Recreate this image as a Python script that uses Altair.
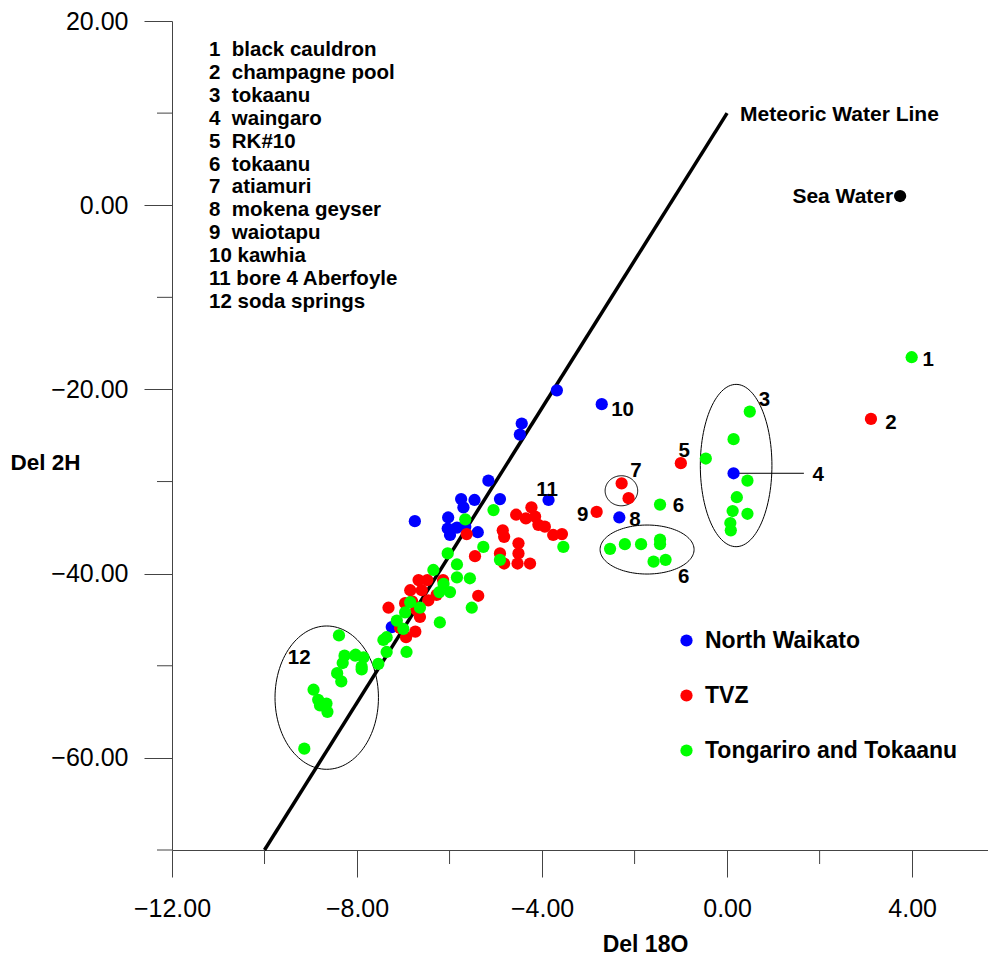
import altair as alt
import pandas as pd
import numpy as np

FONT = "Liberation Sans"

# ---------------- data ----------------
nw_x = [-3.68, -2.71, -4.44, -4.48, -5.16, -4.91, -3.86, -5.75, -5.46, -5.70,
        -6.03, -6.75, -6.04, -5.84, -5.99, -5.66, -5.39, -2.33, 0.14, -7.25]
nw_y = [-20.1, -21.6, -23.7, -24.9, -29.9, -31.9, -32.0, -31.9, -32.0, -32.8,
        -33.9, -34.3, -35.1, -35.0, -35.8, -34.9, -35.5, -33.9, -29.1, -45.8]

tvz_x = [3.11, -1.00, -2.28, -2.13, -2.82,
         -4.56, -4.23, -4.15, -4.35, -4.08, -3.94, -3.76, -3.57, -4.85, -4.82,
         -4.51, -4.51, -4.91, -4.82, -4.53, -4.26, -5.45, -5.63, -5.38, -7.32,
         -6.67, -6.48, -6.14, -6.85, -6.60, -6.46, -6.28, -6.96, -6.72, -6.64,
         -6.74, -6.94, -7.07, -6.81]
tvz_y = [-23.2, -28.0, -30.2, -31.8, -33.3,
         -33.6, -32.8, -33.8, -34.0, -34.7, -34.9, -35.8, -35.7, -35.3, -36.0,
         -36.7, -37.8, -37.8, -38.9, -38.9, -38.9, -38.1, -35.7, -42.4, -43.7,
         -40.7, -40.7, -40.7, -41.8, -41.8, -42.9, -42.3, -43.2, -43.9, -44.7,
         -46.3, -46.9, -45.9, -43.0]

tt_x = [3.99, 0.49, 0.14, -0.46, 0.44, 0.21, 0.12, 0.44, 0.07, 0.08,
        -1.45, -2.53, -2.21, -1.86, -1.45, -1.45, -1.59, -1.33,
        -3.54, -5.05, -5.66, -5.27, -4.91, -6.04, -5.84, -5.84, -5.56, -6.35,
        -6.13, -5.99, -6.22, -5.52, -6.21, -6.85, -6.64, -6.96, -7.14, -7.00,
        -7.36, -7.43, -7.36, -6.93, -7.54, -8.04, -7.90,
        -8.39, -8.27, -8.03, -7.86, -8.31, -7.90, -8.43, -8.34, -8.94, -8.84,
        -8.66, -8.80, -8.64, -9.14]
tt_y = [-16.5, -22.4, -25.4, -27.5, -29.9, -31.7, -33.2, -33.5, -34.5, -35.3,
        -32.5, -37.3, -36.8, -36.8, -36.3, -36.8, -38.7, -38.5,
        -37.1, -33.1, -34.1, -37.1, -38.5, -37.8, -39.0, -40.4, -40.5, -39.6,
        -41.1, -42.0, -42.0, -43.7, -45.3, -43.1, -43.7, -44.2, -45.1, -46.0,
        -46.9, -47.2, -48.5, -48.5, -49.8, -48.9, -50.1,
        -46.7, -48.9, -48.8, -49.1, -49.7, -50.4, -50.8, -51.7, -52.6, -53.7,
        -54.1, -54.3, -55.0, -59.0]

groups = ["North Waikato", "TVZ", "Tongariro and Tokaanu"]
group_colors = ["#0000ff", "#ff0000", "#00ff00"]

sea_x = [3.74]
sea_y = [1.0]

# Meteoric water line  dD = 8 d18O + 10
mwl_x = [-10.0, 0.0]
mwl_y = [-70.0, 10.0]

# site key
site_nums = ["1", "2", "3", "4", "5", "6", "7", "8", "9", "10", "11", "12"]
site_names = ["black cauldron", "champagne pool", "tokaanu", "waingaro", "RK#10",
              "tokaanu", "atiamuri", "mokena geyser", "waiotapu", "kawhia",
              "bore 4 Aberfoyle", "soda springs"]

# number labels beside the points
lab_text = ["1", "2", "3", "4", "5", "6", "6", "7", "8", "9", "10", "11", "12"]
lab_x = [4.35, 3.54, 0.81, 1.97, -0.93, -1.05, -0.94, -1.97, -1.99, -3.12, -2.26, -3.89, -9.25]
lab_y = [-16.8, -23.6, -21.2, -29.3, -26.7, -32.7, -40.4, -28.8, -34.2, -33.6, -22.2, -30.9, -49.2]

# leader line for label 4
lead_x = [0.14, 1.66]
lead_y = [-29.1, -29.1]

# ellipses around groups 3, 6, 7, 12
ell_cx = [0.195, -1.73, -2.285, -8.655]
ell_cy = [-28.26, -37.38, -31.0, -53.46]
ell_rx = [0.774, 1.016, 0.352, 1.118]
ell_ry = [8.81, 2.66, 1.63, 7.78]

x_major = [-12, -8, -4, 0, 4]
x_minor = [-10, -6, -2, 2]
y_major = [-60, -40, -20, 0, 20]
y_minor = [10, -10, -30, -50, -70]

# ---------------- tables ----------------
pts = pd.DataFrame({
    "x": nw_x + tvz_x + tt_x,
    "y": nw_y + tvz_y + tt_y,
    "group": [groups[0]] * len(nw_x) + [groups[1]] * len(tvz_x) + [groups[2]] * len(tt_x),
})
sea = pd.DataFrame({"x": sea_x, "y": sea_y})
mwl = pd.DataFrame({"x": mwl_x, "y": mwl_y})
lead = pd.DataFrame({"x": lead_x, "y": lead_y})
labs = pd.DataFrame({"x": lab_x, "y": lab_y, "t": lab_text})

t = np.linspace(0, 2 * np.pi, 121)
ell_rows = []
for k in range(len(ell_cx)):
    for i, tt in enumerate(t):
        ell_rows.append({"e": k, "i": i,
                         "x": ell_cx[k] + ell_rx[k] * np.cos(tt),
                         "y": ell_cy[k] + ell_ry[k] * np.sin(tt)})
ell = pd.DataFrame(ell_rows)

key_x0 = -11.2
key_dy = 2.484
key_y0 = 16.83
NB = "\u00a0"
key = pd.DataFrame({
    "x": [key_x0] * len(site_nums),
    "y": [key_y0 - key_dy * i for i in range(len(site_nums))],
    "t": [n + NB + (NB if len(n) == 1 else "") + s for n, s in zip(site_nums, site_names)],
})

mwl_lab = pd.DataFrame({"x": [0.28], "y": [9.8], "t": ["Meteoric Water Line"]})
sea_lab = pd.DataFrame({"x": [3.59], "y": [0.9], "t": ["Sea Water"]})
xmin_df = pd.DataFrame({"x": x_minor})
ymin_df = pd.DataFrame({"y": y_minor})

W, H = 816, 829
xscale = alt.Scale(domain=[-12, 5.64], nice=False, zero=False)
yscale = alt.Scale(domain=[-70, 20], nice=False, zero=False)

X = alt.X("x:Q", scale=xscale, title="Del 18O",
          axis=alt.Axis(values=x_major, format=".2f", tickSize=27, labelPadding=19,
                        labelFontSize=25, labelFlush=False, labelOverlap=False,
                        titleX=473, titleY=94, titleAlign="center", titleBaseline="middle",
                        titleFontSize=23))
Y = alt.Y("y:Q", scale=yscale, title="Del 2H",
          axis=alt.Axis(values=y_major, format=".2f", tickSize=28, labelPadding=16,
                        labelFontSize=25, labelFlush=False, labelOverlap=False,
                        titleAngle=0, titleX=-127, titleY=441, titleAlign="center",
                        titleBaseline="middle", titleFontSize=22.5))

ellipses = alt.Chart(ell).mark_line(color="black", strokeWidth=1).encode(
    x=X, y=Y, detail="e:N", order="i:Q")

mwl_line = alt.Chart(mwl).mark_line(color="black", strokeWidth=3.5).encode(x=X, y=Y)

lead_line = alt.Chart(lead).mark_line(color="black", strokeWidth=1).encode(x=X, y=Y)

points = alt.Chart(pts).mark_circle(size=150, opacity=1).encode(
    x=X, y=Y,
    color=alt.Color("group:N",
                    scale=alt.Scale(domain=groups, range=group_colors),
                    legend=alt.Legend(orient="none", legendX=503, legendY=608, title=None,
                                      labelFont=FONT, labelFontSize=23, labelFontWeight="bold",
                                      labelColor="black", labelLimit=0,
                                      symbolType="circle", symbolSize=150,
                                      symbolStrokeWidth=0, symbolOpacity=1, rowPadding=31,
                                      labelOffset=7, padding=0)))

sea_pt = alt.Chart(sea).mark_circle(size=150, opacity=1, color="black").encode(x=X, y=Y)

num_labels = alt.Chart(labs).mark_text(font=FONT, fontSize=20.5, fontWeight="bold",
                                       color="black", align="center", baseline="middle").encode(
    x=X, y=Y, text="t:N")

key_text = alt.Chart(key).mark_text(font=FONT, fontSize=20.5, fontWeight="bold",
                                    color="black", align="left", baseline="middle").encode(
    x=X, y=Y, text="t:N")

mwl_text = alt.Chart(mwl_lab).mark_text(font=FONT, fontSize=21, fontWeight="bold",
                                        color="black", align="left", baseline="middle").encode(
    x=X, y=Y, text="t:N")

sea_text = alt.Chart(sea_lab).mark_text(font=FONT, fontSize=21, fontWeight="bold",
                                        color="black", align="right", baseline="middle").encode(
    x=X, y=Y, text="t:N")

xminor = alt.Chart(xmin_df).mark_rule(color="#444444", strokeWidth=1).encode(
    x=X, y=alt.value(H), y2=alt.value(H + 14))
yminor = alt.Chart(ymin_df).mark_rule(color="#444444", strokeWidth=1).encode(
    y=Y, x=alt.value(-15), x2=alt.value(0))

chart = alt.layer(
    ellipses, mwl_line, lead_line, points, sea_pt, num_labels, key_text,
    mwl_text, sea_text, xminor, yminor
).properties(
    width=W, height=H,
    autosize=alt.AutoSizeParams(type="none"),
    padding={"left": 164, "top": 13, "right": 0, "bottom": 107},
    background="white",
).configure_view(strokeWidth=0).configure_axis(
    grid=False, domainColor="#444444", tickColor="#444444", domainWidth=1, tickWidth=1,
    labelFont=FONT, labelColor="black", titleFont=FONT, titleColor="black",
    titleFontWeight="bold",
)

chart.save("out.html", embed_options={"renderer": "svg", "actions": False})
